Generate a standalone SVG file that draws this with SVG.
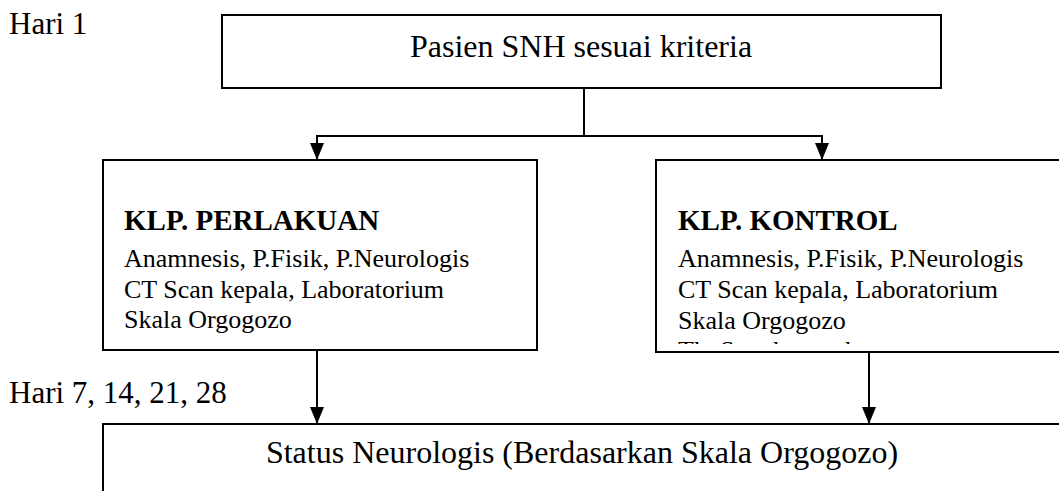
<svg xmlns="http://www.w3.org/2000/svg" width="1059" height="491" viewBox="0 0 1059 491">
<style>
  .box { fill: #ffffff; stroke: #000000; stroke-width: 2; }
  .edge { fill: none; stroke: #000000; stroke-width: 2; }
  text { font-family: "Liberation Serif", "Times New Roman", serif; fill: #000000; }
  .lbl { font-size: 31px; }
  .title { font-size: 32px; text-anchor: middle; }
  .head { font-size: 29px; font-weight: bold; }
  .body { font-size: 26px; }
</style>
<defs>
  <marker id="arrow" markerUnits="userSpaceOnUse" markerWidth="18" markerHeight="16" refX="17" refY="0" viewBox="0 -8 18 16" orient="auto">
    <path d="M0,-7 L17,0 L0,7 z" fill="#000000"/>
  </marker>
  <clipPath id="clipR">
    <rect x="657" y="161" width="402" height="183"/>
  </clipPath>
</defs>
<rect width="1059" height="491" fill="#ffffff"/>

<g id="label-hari1">
  <text class="lbl" x="9" y="34">Hari 1</text>
</g>
<g id="label-hari7">
  <text class="lbl" x="9" y="403">Hari 7, 14, 21, 28</text>
</g>

<g id="node-pasien">
  <rect class="box" x="222" y="15" width="719" height="73"/>
  <text class="title" x="581" y="57">Pasien SNH sesuai kriteria</text>
</g>

<g id="node-perlakuan">
  <rect class="box" x="103" y="160" width="434" height="190"/>
  <text class="head" x="124" y="230">KLP. PERLAKUAN</text>
  <text class="body" x="124" y="267">Anamnesis, P.Fisik, P.Neurologis</text>
  <text class="body" x="124" y="298">CT Scan kepala, Laboratorium</text>
  <text class="body" x="124" y="328">Skala Orgogozo</text>
</g>

<g id="node-kontrol">
  <rect class="box" x="656" y="160" width="420" height="192"/>
  <g clip-path="url(#clipR)">
    <text class="head" x="678" y="230">KLP. KONTROL</text>
    <text class="body" x="678" y="267">Anamnesis, P.Fisik, P.Neurologis</text>
    <text class="body" x="678" y="298">CT Scan kepala, Laboratorium</text>
    <text class="body" x="678" y="329">Skala Orgogozo</text>
    <text class="body" x="678" y="359">Th. Standar stroke</text>
  </g>
</g>

<g id="node-status">
  <rect class="box" x="103" y="424" width="1000" height="120"/>
  <text class="title" x="582" y="463">Status Neurologis (Berdasarkan Skala Orgogozo)</text>
</g>

<g id="connectors">
  <polyline class="edge" points="584,88 584,136 317,136 317,160" marker-end="url(#arrow)"/>
  <polyline class="edge" points="584,136 822,136 822,160" marker-end="url(#arrow)"/>
  <line class="edge" x1="317" y1="351" x2="317" y2="424" marker-end="url(#arrow)"/>
  <line class="edge" x1="869" y1="353" x2="869" y2="424" marker-end="url(#arrow)"/>
</g>
</svg>
